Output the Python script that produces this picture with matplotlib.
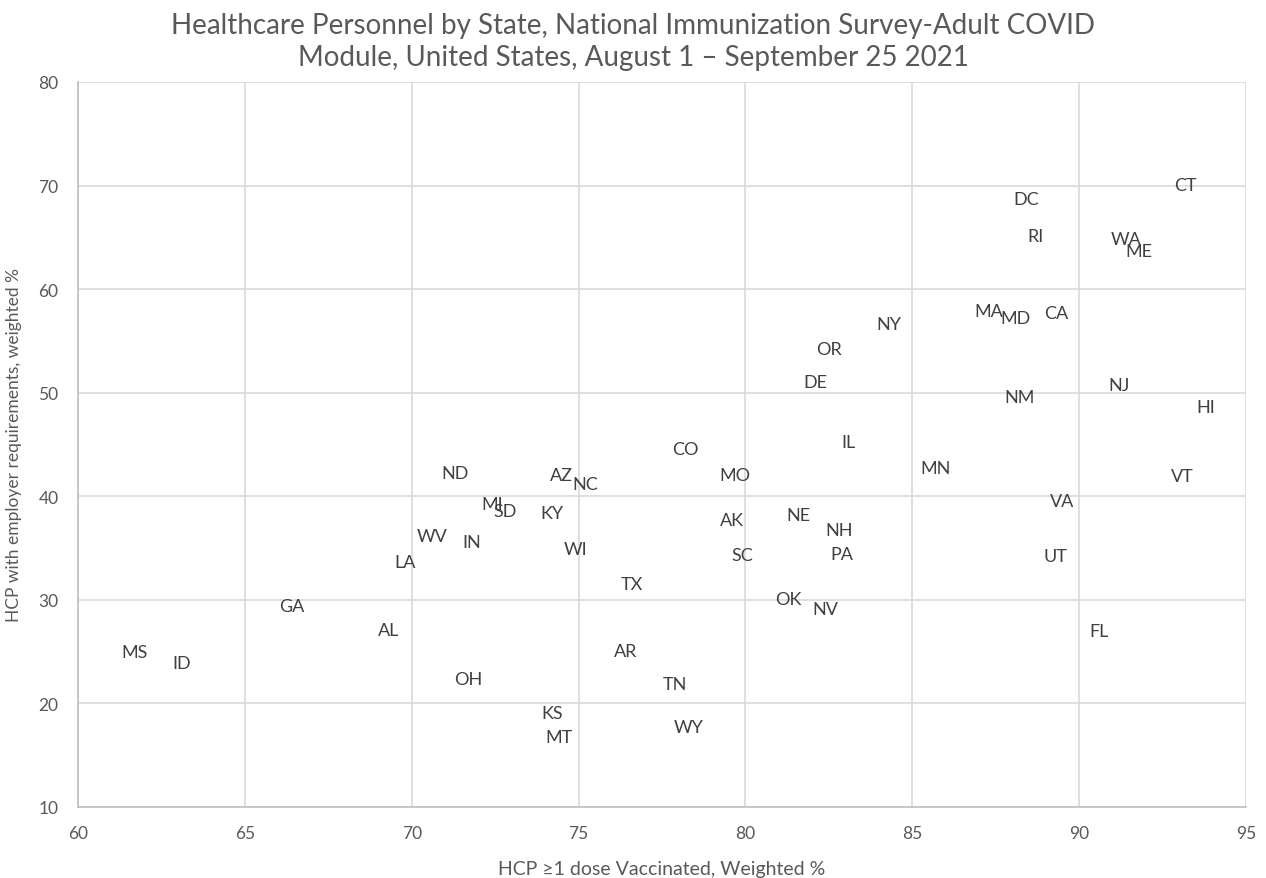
import matplotlib.pyplot as plt
import numpy as np

plt.rcParams['font.family'] = ['Lato', 'DejaVu Sans']

# state abbreviations and values
states = ["MS", "ID", "GA", "AL", "LA", "WV", "IN", "ND", "OH", "MI",
          "SD", "KY", "AZ", "NC", "WI", "KS", "MT", "TX", "AR", "TN",
          "WY", "CO", "MO", "AK", "SC", "OK", "NV", "NE", "NH", "PA",
          "IL", "DE", "OR", "NY", "MN", "MA", "MD", "CA", "NM", "DC",
          "RI", "WA", "ME", "CT", "NJ", "HI", "VT", "VA", "UT", "FL"]
vaccinated = [61.7, 63.1, 66.4, 69.3, 69.8, 70.6, 71.8, 71.3, 71.7, 72.4,
              72.8, 74.2, 74.5, 75.2, 74.9, 74.2, 74.4, 76.6, 76.4, 77.9,
              78.3, 78.2, 79.7, 79.6, 79.9, 81.3, 82.4, 81.6, 82.8, 82.9,
              83.1, 82.1, 82.5, 84.3, 85.7, 87.3, 88.1, 89.3, 88.2, 88.4,
              88.7, 91.4, 91.8, 93.2, 91.2, 93.8, 93.1, 89.5, 89.3, 90.6]
employer_req = [25.0, 23.9, 29.4, 27.1, 33.7, 36.2, 35.6, 42.2, 22.4, 39.3,
                38.6, 38.4, 42.1, 41.2, 34.9, 19.1, 16.8, 31.5, 25.1, 21.9,
                17.7, 44.6, 42.1, 37.7, 34.3, 30.1, 29.1, 38.2, 36.7, 34.4,
                45.2, 51.0, 54.2, 56.6, 42.7, 57.9, 57.2, 57.7, 49.6, 68.7,
                65.1, 64.8, 63.7, 70.1, 50.7, 48.6, 42.0, 39.5, 34.2, 27.0]

fig = plt.figure(figsize=(12.66, 8.79), dpi=100)
ax = fig.add_axes([0.0616, 0.0808, 0.9226, 0.8248])

# only the data labels are shown, no markers
for s, x, y in zip(states, vaccinated, employer_req):
    ax.text(x, y, s, ha='center', va='center', fontsize=13, color='#404040')

ax.set_xlim(60, 95)
ax.set_ylim(10, 80)
ax.set_xticks(np.arange(60, 96, 5))
ax.set_yticks(np.arange(10, 81, 10))
ax.grid(True, color='#d9d9d9', linewidth=1.2)
ax.set_axisbelow(True)
for side in ['top', 'right']:
    ax.spines[side].set_visible(False)
for side in ['left', 'bottom']:
    ax.spines[side].set_color('#bfbfbf')
    ax.spines[side].set_linewidth(1.2)
ax.tick_params(length=0, labelsize=12.5, labelcolor='#595959')
ax.tick_params(axis='x', pad=13)
ax.tick_params(axis='y', pad=14)

ax.set_xlabel("HCP \u22651 dose Vaccinated, Weighted %", fontsize=14, color='#595959', labelpad=14)
ax.set_ylabel("HCP with employer requirements, weighted %", fontsize=12.5, color='#595959', labelpad=12)
fig.text(0.5, 0.952,
         "Healthcare Personnel by State, National Immunization Survey-Adult COVID\n"
         "Module, United States, August 1 \u2013 September 25 2021",
         ha='center', va='center', fontsize=20, color='#595959', linespacing=1.3)

plt.savefig("out.png", dpi=100)
